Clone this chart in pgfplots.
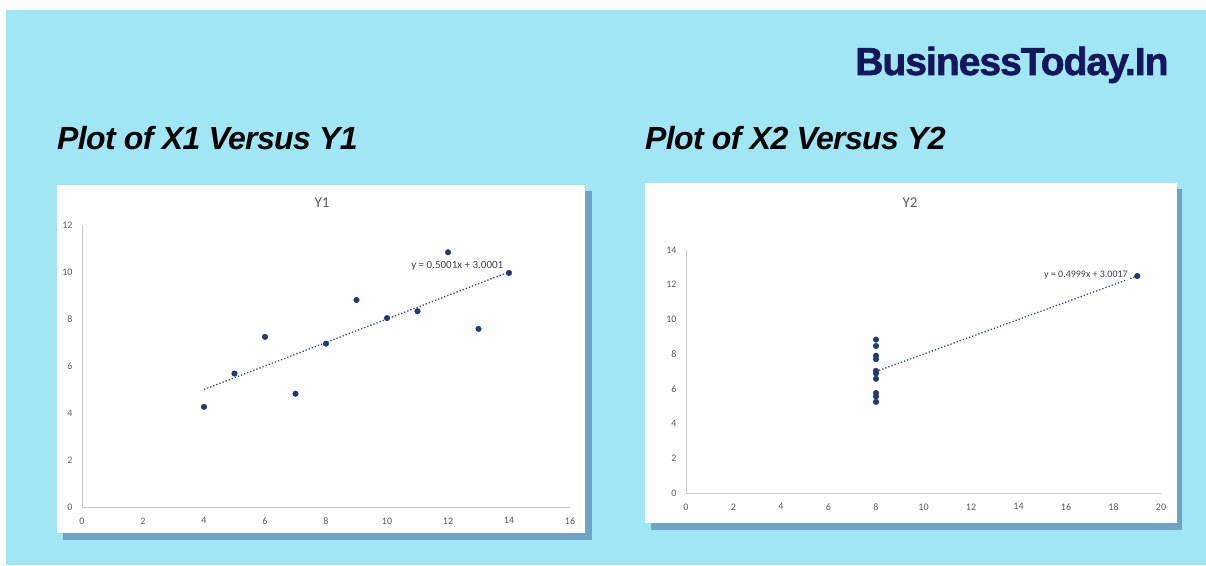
\documentclass[border=0pt]{standalone}
\usepackage{pgfplots}
\pgfplotsset{compat=1.18}
\usepackage{fontspec}
\setmainfont{Liberation Sans}
\newfontfamily\carlito{Carlito}
\newfontfamily\titlefont[LetterSpace=-2]{Liberation Sans}
\newfontfamily\brandfont[LetterSpace=-2.5, BoldFeatures={FakeBold=1.6}]{Liberation Sans}
\definecolor{bgcyan}{HTML}{A0E6F4}
\definecolor{shadowc}{HTML}{6FA3C4}
\definecolor{navy}{HTML}{16165A}
\definecolor{markc}{HTML}{1F3A7A}
\definecolor{trendc}{HTML}{2F4A86}
\definecolor{ticktext}{HTML}{595959}
\definecolor{eqtext}{HTML}{404040}
\definecolor{axisline}{HTML}{C8C8C8}
\pgfplotsset{
  panel/.style={
    scale only axis,
    anchor=south west,
    axis lines=left,
    axis line style={-, draw=axisline, line width=0.8pt},
    enlargelimits=false,
    clip=false,
    major tick length=0pt,
    tick label style={font=\carlito\fontsize{10}{10}\selectfont, text=ticktext},
    /pgf/number format/assume math mode=true,
    xticklabel style={yshift=-7pt},
    yticklabel style={xshift=-6pt},
  },
  dots/.style={only marks, mark=*, mark size=2.8pt, mark options={fill=markc, draw=markc}},
  trend/.style={no marks, draw=trendc, line width=1.3pt, dotted},
}
\begin{document}
\begin{tikzpicture}
\fill[white] (0pt,0pt) rectangle (1206pt,565pt);
\fill[bgcyan] (6pt,0pt) rectangle (1206pt,555pt);
\node[anchor=base west, inner sep=0pt, text=navy] at (855pt,490pt)
  {\brandfont\fontsize{39}{39}\selectfont\bfseries BusinessToday.In};
\node[anchor=base west, inner sep=0pt, text=black] at (57pt,415pt)
  {\titlefont\fontsize{32}{32}\selectfont\bfseries\itshape Plot of X1 Versus Y1};
\node[anchor=base west, inner sep=0pt, text=black] at (645pt,415pt)
  {\titlefont\fontsize{32}{32}\selectfont\bfseries\itshape Plot of X2 Versus Y2};
\fill[shadowc] (63pt,25pt) rectangle (592pt,374pt);
\fill[white] (57pt,32pt) rectangle (585pt,380pt);
\fill[shadowc] (651pt,35pt) rectangle (1182pt,376pt);
\fill[white] (645pt,42pt) rectangle (1177pt,382pt);
\node[text=ticktext] at (322pt,362pt) {\carlito\fontsize{15}{15}\selectfont Y1};
\node[text=ticktext] at (910pt,362pt) {\carlito\fontsize{15}{15}\selectfont Y2};
\begin{axis}[panel, at={(82pt,58pt)}, width=488pt, height=282pt,
  xmin=0, xmax=16, ymin=0, ymax=12,
  xtick={0,2,4,6,8,10,12,14,16}, ytick={0,2,4,6,8,10,12}]
  \addplot[trend] coordinates {(4,5.0005) (14,10.0015)};
  \addplot[dots] coordinates {(10,8.04) (8,6.95) (13,7.58) (9,8.81) (11,8.33) (14,9.96) (6,7.24) (4,4.26) (12,10.84) (7,4.82) (5,5.68)};
  \node[anchor=east, fill=white, inner sep=1pt, text=eqtext, font=\carlito\fontsize{11}{11}\selectfont] at (axis cs:13.85,10.26) {y = 0.5001x + 3.0001};
\end{axis}
\begin{axis}[panel, at={(686pt,72pt)}, width=475pt, height=243pt,
  xmin=0, xmax=20, ymin=0, ymax=14,
  xtick={0,2,4,6,8,10,12,14,16,18,20}, ytick={0,2,4,6,8,10,12,14}]
  \addplot[trend] coordinates {(8,7.0009) (19,12.4998)};
  \addplot[dots] coordinates {(8,6.58) (8,5.76) (8,7.71) (8,8.84) (8,8.47) (8,7.04) (8,5.25) (19,12.50) (8,5.56) (8,7.91) (8,6.89)};
  \node[anchor=east, fill=white, inner sep=1pt, text=eqtext, font=\carlito\fontsize{10}{10}\selectfont] at (axis cs:18.65,12.56) {y = 0.4999x + 3.0017};
\end{axis}
\end{tikzpicture}
\end{document}
